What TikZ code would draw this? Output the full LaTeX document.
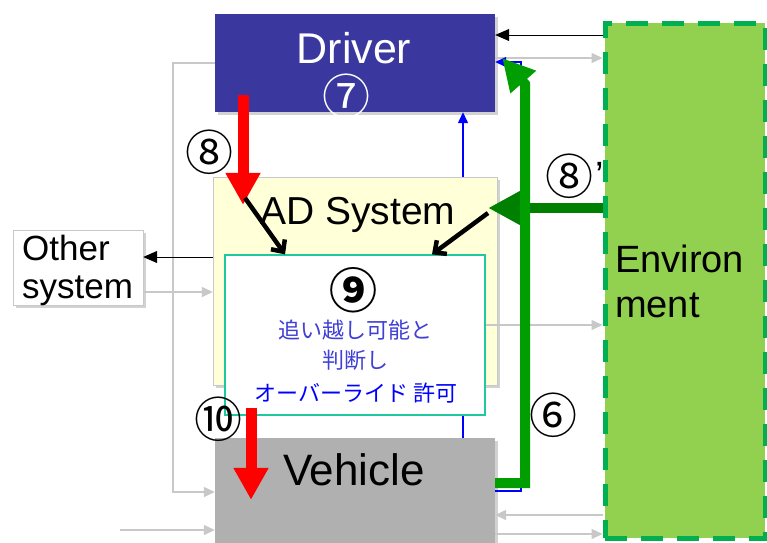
\documentclass[tikz,border=0pt]{standalone}
\usepackage{fontspec}
\setmainfont{Liberation Sans}
\newfontfamily\jpfont{Noto Sans CJK JP}
\usetikzlibrary{arrows.meta,positioning,calc,shadows}
\definecolor{driverblue}{RGB}{58,56,158}
\definecolor{adyellow}{RGB}{255,255,216}
\definecolor{judgeteal}{RGB}{32,200,160}
\definecolor{vehiclegray}{RGB}{176,176,176}
\definecolor{envfill}{RGB}{146,208,80}
\definecolor{envline}{RGB}{0,176,80}
\definecolor{loopgreen}{RGB}{0,158,0}
\definecolor{sensegreen}{RGB}{0,128,0}
\definecolor{paleline}{RGB}{200,200,200}
\definecolor{jpblue}{RGB}{64,64,214}
\tikzset{
  blockbox/.style={minimum width=280pt, inner sep=0pt,
    drop shadow={shadow xshift=2.5pt, shadow yshift=-2.5pt, opacity=0.35}},
  bigtext/.style={font=\fontsize{#1}{#1}\selectfont, inner sep=0pt, anchor=base},
  circnum/.style={font=\jpfont\fontsize{48}{48}\selectfont, inner sep=0pt},
  jptext/.style={font=\jpfont\fontsize{22}{22}\selectfont, inner sep=0pt},
  paleflow/.style={draw=paleline, line width=1.4pt, -{Triangle[length=11pt,width=10pt]}},
  signalflow/.style={draw=black, line width=1pt, -{Triangle[length=14pt,width=12pt]}},
  blueflow/.style={draw=blue, line width=1.4pt, -{Triangle[length=11pt,width=10pt]}},
  redflow/.style={draw=red, line width=11pt, -{Triangle[length=32pt,width=33pt]}},
  greenflow/.style={line width=10pt, -{Triangle[length=32pt,width=32pt]}},
  pointarrow/.style={draw=black, line width=4.5pt, -{Straight Barb[length=9pt,width=17pt]}}
}

\begin{document}
\begin{tikzpicture}[x=1pt, y=-1pt]
    \useasboundingbox (0,0) rectangle (767,542);
    \fill[white] (0,0) rectangle (767,542);

    \node[fill=envfill, draw=envline, line width=5pt, dash pattern=on 22pt off 14pt,
      minimum width=160pt, minimum height=515pt, inner sep=0pt] (env) at (685,280.5) {};
    \node[blockbox, fill=driverblue, minimum height=98pt] (driver) at (355,63) {};
    \node[blockbox, fill=adyellow, draw=paleline, minimum width=284pt, minimum height=208pt] (adsys) at (355,281) {};
    \node[fill=white, draw=judgeteal, line width=1.3pt, minimum width=260pt, minimum height=160pt,
      inner sep=0pt] (judge) at (355,335) {};
    \node[blockbox, fill=vehiclegray, minimum height=124pt] (vehicle) at (355,500) {};
    \node[blockbox, fill=white, draw=paleline, minimum width=130pt, minimum height=75pt] (other) at (78,267.5) {};

    \node[bigtext=43, text=white] (driverlabel) at (354,63) {Driver};
    \node[bigtext=39] (adlabel) at (358,224) {AD System};
    \node[bigtext=44] (vehiclelabel) at (354,485) {Vehicle};
    \node[bigtext=35, anchor=base west] (otherA) at (22,260) {Other};
    \node[bigtext=35, anchor=base west] (otherB) at (22,298) {system};
    \node[bigtext=38, anchor=base west] (envA) at (615,272) {Environ};
    \node[bigtext=38, anchor=base west] (envB) at (615,317) {ment};

    \node[circnum, text=white] (n7) at (346,96) {⑦};
    \node[circnum] (n8) at (209,152) {⑧};
    \node[circnum] (n8p) at (569,176) {⑧};
    \node[bigtext=38] (n8tick) at (600,188) {’};
    \node[circnum] (n6) at (553,415) {⑥};
    \node[circnum] (n10) at (218,419) {⑩};
    \node[circnum, font=\jpfont\bfseries\fontsize{48}{48}\selectfont] (n9) at (353,290) {⑨};
    \node[jptext, text=jpblue] (judgeA) at (355,330) {追い越し可能と};
    \node[jptext, text=jpblue] (judgeB) at (355,360) {判断し};
    \node[jptext, text=blue] (judgeC) at (356,393) {オーバーライド 許可};

    \coordinate (vehin) at (120,530);
    \draw[paleflow] (driver.west) -| (173,492) -- (vehicle.west |- 0,492);
    \draw[paleflow] (vehin) -- (vehicle.west |- 0,530);
    \draw[signalflow] (adsys.west |- 0,257) -- (other.east |- 0,257);
    \draw[paleflow] (other.east |- 0,292) -- (adsys.west |- 0,292);
    \draw[signalflow] (env.west |- 0,35) -- (driver.east |- 0,35);
    \draw[paleflow] (driver.east |- 0,58) -- (env.west |- 0,58);
    \draw[paleflow] (judge.east |- 0,325) -- (env.west |- 0,325);
    \draw[paleflow] (env.west |- 0,515) -- (vehicle.east |- 0,515);
    \draw[paleflow] (vehicle.east |- 0,534) -- (env.west |- 0,534);

    \draw[blueflow] (adsys.north -| 463,0) -- (driver.south -| 463,0);
    \draw[draw=blue, line width=1.4pt] (judge.south -| 463,0) -- (vehicle.north -| 463,0);
    \draw[blueflow] (vehicle.east |- 0,491) -- (521,491) -- (521,62) -- (driver.east |- 0,62);

    \draw[greenflow, draw=sensegreen, shorten >=-9pt] (env.west |- 0,208) -- (adsys.east |- 0,208);
    \draw[greenflow, draw=loopgreen] (vehicle.east |- 0,483) -- (525,483) -- (525,84)
      -- ([shift={(7pt,5pt)}]driver.east);

    \draw[redflow, shorten <=-17pt, shorten >=-28pt] (driver.south -| 243,0) -- (adsys.north -| 243,0);
    \draw[redflow, shorten <=-8pt, shorten >=-62pt] (judge.south -| 251,0) -- (vehicle.north -| 251,0);

    \coordinate (pointL) at (245,198);
    \coordinate (pointR) at (488,213);
    \draw[pointarrow] (pointL) -- (judge.north -| 285,0);
    \draw[pointarrow] (pointR) -- (judge.north -| 432,0);
  \end{tikzpicture}
\end{document}
